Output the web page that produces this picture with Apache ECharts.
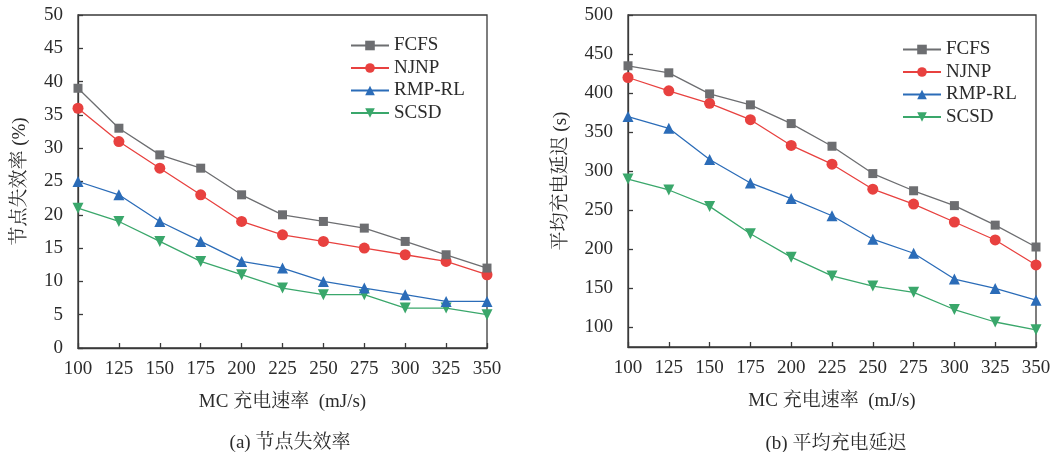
<!DOCTYPE html>
<html><head><meta charset="utf-8">
<script src="https://cdn.jsdelivr.net/npm/echarts@6/dist/echarts.min.js"></script>
<style>html,body{margin:0;padding:0;background:#fff}#c{width:1059px;height:452px}</style>
</head><body><div id="c"></div>
<script>
const rates = ['100','125','150','175','200','225','250','275','300','325','350'];
const seriesNames = ['FCFS','NJNP','RMP-RL','SCSD'];
// (a) node failure rate (%)
const failFCFS = [39,33,29,27,23,20,19,18,16,14,12];
const failNJNP = [36,31,27,23,19,17,16,15,14,13,11];
const failRMP  = [25,23,19,16,13,12,10,9,8,7,7];
const failSCSD = [21,19,16,13,11,9,8,8,6,6,5];
// (b) average charging delay (s)
const delayFCFS = [435,426,399,385,361,332,297,275,256,231,203];
const delayNJNP = [420,403,387,366,333,309,277,258,235,212,180];
const delayRMP  = [370,355,315,285,265,243,213,195,162,150,135];
const delaySCSD = [290,276,255,220,190,166,153,145,123,107,97];

const colors = ['#6d6e71','#e8413f','#2b6cb8','#3aa76b'];
const symbols = ['rect','circle','triangle','path://M0,0 L10,0 L5,9 Z'];
const symSizes = [9,11,11,11];
const FONT = '"Liberation Serif","Times New Roman","Noto Serif CJK SC","Noto Sans CJK SC",serif';
const txt = '#2b2b2b';
const axisCol = '#3a3a3a';
const FS = 19;

function mkX(gi){
  return {
    type:'category', gridIndex:gi, data:rates, boundaryGap:false,
    name:'MC 充电速率  (mJ/s)', nameLocation:'middle', nameGap:45,
    nameTextStyle:{fontFamily:FONT,fontSize:FS,color:txt},
    axisLine:{lineStyle:{color:axisCol,width:1.3}},
    axisTick:{inside:true,length:5,alignWithLabel:true,lineStyle:{color:axisCol,width:1.3}},
    axisLabel:{fontFamily:FONT,fontSize:FS,color:txt,margin:12},
    splitLine:{show:false}
  };
}
const dataSets = [[failFCFS,failNJNP,failRMP,failSCSD],[delayFCFS,delayNJNP,delayRMP,delaySCSD]];
const series = [];
for (let g=0; g<2; g++){
  for (let i=0;i<4;i++){
    series.push({
      type:'line', name:seriesNames[i], xAxisIndex:g, yAxisIndex:g,
      data:dataSets[g][i], symbol:symbols[i], symbolSize:symSizes[i],
      showAllSymbol:true,
      lineStyle:{color:colors[i],width:1.3}, itemStyle:{color:colors[i]},
      emphasis:{disabled:true}, animation:false, z:10-i
    });
  }
}
const legendBase = {
  orient:'vertical', data:seriesNames, itemWidth:38, itemHeight:12, itemGap:3.5, padding:0,
  textStyle:{fontFamily:FONT,fontSize:FS,color:txt,lineHeight:18},
  selectedMode:false
};
const chart = echarts.init(document.getElementById('c'));
chart.setOption({
  backgroundColor:'#fff',
  animation:false,
  title:[
    {text:'(a) 节点失效率', left:285, top:429, textAlign:'center', textStyle:{fontFamily:FONT,fontSize:FS,fontWeight:'normal',color:txt}},
    {text:'(b) 平均充电延迟', left:831, top:430, textAlign:'center', textStyle:{fontFamily:FONT,fontSize:FS,fontWeight:'normal',color:txt}}
  ],
  grid:[
    {left:78, top:15, width:409, height:333, show:true, borderColor:axisCol, borderWidth:1.3, backgroundColor:'transparent'},
    {left:628, top:15, width:408, height:332, show:true, borderColor:axisCol, borderWidth:1.3, backgroundColor:'transparent'}
  ],
  legend:[
    Object.assign({left:350, top:36}, legendBase),
    Object.assign({left:902, top:40}, legendBase)
  ],
  xAxis:[mkX(0), mkX(1)],
  yAxis:[
    {type:'value', gridIndex:0, min:0, max:50, interval:5,
     name:'节点失效率 (%)', nameLocation:'middle', nameGap:48, nameRotate:90,
     nameTextStyle:{fontFamily:FONT,fontSize:FS,color:txt},
     axisLine:{show:true,lineStyle:{color:axisCol,width:1.3}},
     axisTick:{show:true,inside:true,length:5,lineStyle:{color:axisCol,width:1.3}},
     axisLabel:{fontFamily:FONT,fontSize:FS,color:txt,margin:15},
     splitLine:{show:false}},
    {type:'value', gridIndex:1, min:75, max:500, splitNumber:8,
     name:'平均充电延迟 (s)', nameLocation:'middle', nameGap:57, nameRotate:90,
     nameTextStyle:{fontFamily:FONT,fontSize:FS,color:txt},
     axisLine:{show:true,lineStyle:{color:axisCol,width:1.3}},
     axisTick:{show:true,inside:true,length:5,lineStyle:{color:axisCol,width:1.3}},
     axisLabel:{fontFamily:FONT,fontSize:FS,color:txt,margin:15,showMinLabel:false,
       formatter:function(v){return v===75?'':String(v);}},
     splitLine:{show:false}}
  ],
  series:series
});
</script></body></html>
